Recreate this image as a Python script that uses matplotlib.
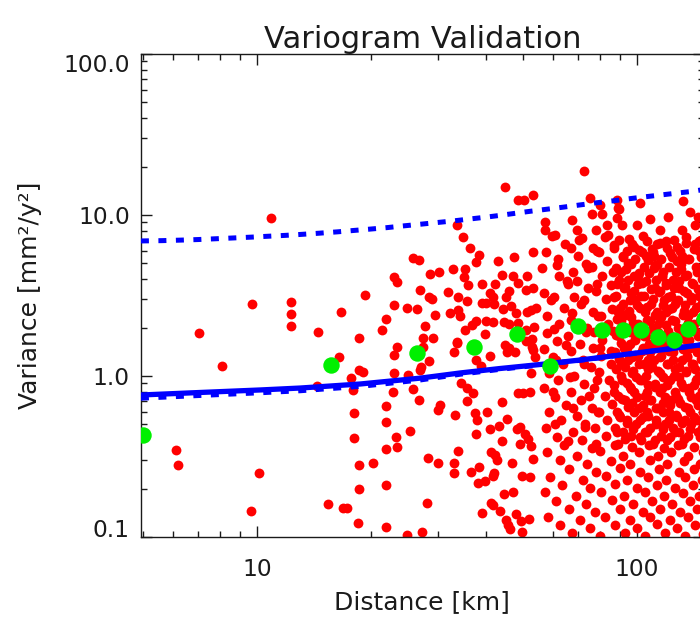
import matplotlib
matplotlib.use("Agg")
import matplotlib.pyplot as plt
from matplotlib.ticker import FixedLocator, LogLocator, NullFormatter

plt.rcParams['font.family'] = ['DejaVu Sans']

title = "Variogram Validation"
x_label = "Distance [km]"
y_label = "Variance [mm²/y²]"
x_ticks = [10, 100]
x_tick_labels = ["10", "100"]
y_ticks = [0.1, 1, 10, 100]
y_tick_labels = ["0.1", "1.0", "10.0", "100.0"]

# binned experimental variogram (green)
bin_distance = [5.0, 15.66, 26.4, 37.3, 48.2, 59.0, 70.1, 81.0, 91.6, 102.6, 113.8, 124.9, 136.0, 150.0]
bin_variance = [0.43, 1.17, 1.395, 1.51, 1.815, 1.154, 2.035, 1.93, 1.917, 1.92, 1.735, 1.673, 1.96, 2.26]

# model curve (solid) and its dashed companion
model_distance = [4.95, 7.08, 10.2, 13.0, 18.7, 26.9, 34.2, 43.6, 55.6, 70.8, 90.2, 115, 150]
model_variance = [0.762, 0.79, 0.819, 0.842, 0.892, 0.97, 1.044, 1.113, 1.179, 1.257, 1.35, 1.45, 1.57]
model2_variance = [0.728, 0.757, 0.787, 0.81, 0.862, 0.945, 1.025, 1.10, 1.172, 1.252, 1.347, 1.448, 1.568]

# upper dashed curve
upper_distance = [4.95, 5.62, 6.27, 7.0, 7.8, 8.65, 9.7, 10.7, 11.85, 13.1, 14.6, 16.3, 17.9, 19.8,
                  22.0, 24.2, 27.0, 29.8, 33.0, 36.1, 39.8, 44.1, 48.3, 52.9, 58.6, 64.2, 70.8,
                  78.0, 86.6, 94.9, 104.3, 115, 126.5, 139, 150]
upper_variance = [6.90, 6.93, 6.98, 7.04, 7.12, 7.20, 7.29, 7.38, 7.47, 7.58, 7.71, 7.86, 8.01, 8.17,
                  8.35, 8.55, 8.77, 8.98, 9.2, 9.43, 9.68, 9.98, 10.28, 10.58, 10.9, 11.2, 11.55,
                  11.9, 12.25, 12.6, 12.95, 13.3, 13.65, 14.0, 14.4]

# individual pair variances (red), short distances
near_pairs = [
    (10.9, 9.6), (9.7, 2.81), (12.3, 2.87), (12.3, 2.43), (12.3, 2.05), (7.03, 1.86), (14.5, 1.88),
    (16.6, 2.49), (18.5, 1.73), (16.4, 1.32), (8.07, 1.15), (6.11, 0.346), (6.21, 0.281), (10.1, 0.249),
    (9.64, 0.146), (14.4, 0.87), (17.7, 0.97), (17.9, 0.82), (18.0, 0.59), (18.0, 0.41), (18.5, 0.28),
    (18.5, 0.20), (18.4, 0.123), (15.4, 0.160), (16.8, 0.152), (17.3, 0.152), (18.6, 1.09),
    (45, 14.9), (48.7, 12.4), (50.5, 12.4), (53.2, 13.4), (33.6, 8.67), (34.9, 7.27), (36.3, 6.21),
    (38.5, 5.67), (37.6, 5.13), (25.7, 5.38), (26.7, 5.25), (30.1, 4.43), (28.6, 4.32), (32.8, 4.64),
    (35.3, 4.6), (35.0, 4.14), (23.0, 4.1), (23.4, 3.85), (19.2, 3.2), (26.8, 3.44), (28.4, 3.11),
    (28.9, 3.01), (22.9, 2.76), (24.8, 2.65), (26.3, 2.6), (21.9, 2.25), (21.3, 1.94), (29.4, 2.39),
    (31.8, 3.32), (33.9, 3.11), (35.7, 2.92), (32.2, 2.45), (33.9, 2.57), (34.3, 2.37), (35.9, 3.67),
    (27.7, 2.05), (27.3, 1.71), (29.0, 1.71), (33.7, 1.63), (23.3, 1.52), (35.3, 1.93), (37.6, 2.2),
    (36.9, 2.07), (39.1, 3.71), (42.3, 3.71), (41.0, 3.26), (41.8, 3.11), (43.0, 5.2), (44.0, 4.22),
    (47.1, 4.16), (47.4, 5.51), (53.3, 5.89), (51.5, 4.19), (48.7, 3.77), (46.0, 3.37), (45.2, 3.11),
    (50.9, 3.42), (53.2, 3.5), (46.5, 2.73), (44.3, 2.62), (40.1, 2.83), (39.1, 2.86), (42.0, 2.79),
    (48.0, 2.47), (51.5, 2.5), (52.5, 2.57), (54.2, 2.63), (40.0, 2.2), (41.8, 2.17), (44.6, 2.17),
    (46.0, 2.1), (48.7, 2.13), (53.5, 2.02), (51.0, 1.93), (39.8, 1.82), (53.0, 1.7), (51.0, 1.66),
    (45.0, 1.56), (46.0, 1.49), (53.0, 1.52),
    (22.9, 1.35), (19.0, 1.06), (23.0, 1.04), (25.0, 1.01), (27.0, 1.14), (26.9, 1.09), (28.4, 1.24),
    (27.4, 1.52), (33.0, 1.40), (33.7, 1.61), (41.1, 1.33), (37.6, 1.26), (38.9, 1.15), (45.4, 1.41),
    (47.7, 1.40), (53.2, 1.45), (53.8, 1.32), (52.7, 1.05), (34.4, 0.90), (35.6, 0.84), (22.8, 0.80),
    (25.7, 0.83), (26.7, 0.71), (37.1, 0.78), (35.7, 0.70), (48.7, 0.78), (50.2, 0.78), (52.3, 0.80),
    (44.1, 0.69), (21.8, 0.65), (30.3, 0.66), (30.0, 0.615), (37.4, 0.585), (37.9, 0.533), (40.3, 0.60),
    (33.2, 0.573), (45.6, 0.54), (21.9, 0.52), (25.3, 0.457), (37.7, 0.434), (41.1, 0.466), (43.4, 0.49),
    (48.4, 0.47), (49.2, 0.48), (50.8, 0.434), (51.7, 0.404), (23.2, 0.416), (44.2, 0.395), (49.3, 0.376),
    (52.6, 0.367), (21.8, 0.352), (23.3, 0.36), (33.9, 0.342), (41.4, 0.338), (42.3, 0.323), (42.7, 0.30),
    (53.2, 0.305), (46.9, 0.29), (28.2, 0.308), (29.9, 0.289), (33.0, 0.289), (33.0, 0.249), (20.2, 0.289),
    (36.5, 0.255), (38.4, 0.273), (42.1, 0.251), (41.7, 0.24), (49.8, 0.24), (52.3, 0.237), (39.9, 0.224),
    (38.2, 0.216), (21.9, 0.209), (44.6, 0.185), (47.2, 0.189), (28.0, 0.162), (41.3, 0.162), (41.8, 0.157),
    (39.2, 0.141), (43.6, 0.145), (47.9, 0.138), (52.1, 0.129), (45.3, 0.128), (45.8, 0.119), (49.6, 0.125),
    (21.9, 0.115), (27.1, 0.108), (24.8, 0.103), (46.3, 0.112), (49.8, 0.107),
]

# individual pair variances (red), long distances
far_pairs = [
    (72.6, 18.8), (75.2, 12.8), (88.7, 12.4), (102, 11.9), (132, 12.2), (80, 11.6), (89, 11.1),
    (76.2, 10.2), (80.9, 10.2), (89.5, 10.9), (121, 9.7), (145, 9.7), (57.3, 9.1), (67.3, 9.3),
    (88.5, 9.6), (57.3, 8.07), (60.8, 7.5), (69.6, 8.07), (71.5, 7.2), (78, 8.1), (83.2, 8.7),
    (83.7, 7.5), (91.2, 8.7), (100, 8.7), (115, 8.1), (131, 8.1), (142, 8.7), (108, 9.4), (138, 10.5),
    (150, 9.0),
    (59.8, 7.4), (70.2, 6.95), (82.5, 7.3), (95.5, 7.05), (103.8, 7.45), (119.0, 6.85), (134.6, 7.3), (147.1, 7.0),
    (64.5, 6.6), (76.8, 6.25), (86.9, 6.55), (98.3, 6.3), (109.4, 6.15), (114.8, 6.7), (127.1, 6.35), (141.9, 6.6),
    (57.6, 5.85), (69.9, 5.55), (78.4, 6.0), (92.1, 5.6), (103.0, 5.9), (110.6, 5.55), (121.8, 5.8), (131.0, 5.6), (145.9, 5.95),
    (61.8, 5.3), (73.5, 4.95), (83.6, 5.2), (94.9, 5.0), (106.9, 5.25), (113.1, 4.9), (127.6, 5.15), (136.4, 5.3), (150.2, 4.95),
    (56.4, 4.7), (67.8, 4.4), (76.1, 4.75), (86.5, 4.45), (93.3, 4.6), (101.5, 4.35), (111.0, 4.7), (117.2, 4.45), (130.9, 4.6), (143.4, 4.4),
    (62.2, 4.15), (69.4, 3.9), (80.7, 4.2), (89.6, 3.95), (97.9, 4.2), (105.5, 3.9), (116.2, 4.15), (124.7, 3.95), (133.9, 4.2), (147.9, 3.98),
    (65.9, 3.75), (74.4, 3.5), (85.2, 3.7), (92.8, 3.55), (100.4, 3.75), (111.7, 3.5), (118.9, 3.7), (128.7, 3.52), (140.7, 3.72), (151.3, 3.58),
    (57.0, 3.3), (68.3, 3.1), (77.9, 3.35), (88.3, 3.15), (96.7, 3.28), (104.2, 3.12), (114.4, 3.32), (122.6, 3.15), (135.1, 3.3), (145.3, 3.12),
    (59.3, 2.95), (71.4, 2.8), (82.9, 3.0), (91.7, 2.82), (98.7, 2.98), (109.0, 2.8), (117.6, 2.95), (125.5, 2.8), (138.6, 2.96), (148.4, 2.83),
    (64.1, 2.65), (76.5, 2.5), (86.1, 2.6), (95.1, 2.52), (101.9, 2.65), (112.8, 2.5), (121.2, 2.62), (132.6, 2.52), (143.1, 2.66),
    (58.0, 2.35), (67.2, 2.22), (80.4, 2.36), (88.8, 2.25), (96.5, 2.34), (106.3, 2.22), (115.3, 2.33), (123.9, 2.24), (136.0, 2.35), (147.2, 2.25),
    (62.5, 2.1), (73.9, 1.98), (84.1, 2.1), (93.7, 2.0), (100.9, 2.1), (110.3, 1.98), (119.4, 2.08), (128.5, 2.0), (141.0, 2.1), (151.8, 2.0),
    (57.9, 1.86), (66.0, 1.78), (77.0, 1.88), (87.8, 1.79), (95.7, 1.87), (104.6, 1.78), (113.8, 1.87), (122.4, 1.78), (133.2, 1.86), (144.3, 1.79),
    (61.5, 1.66), (71.0, 1.58), (81.0, 1.68), (90.5, 1.6), (99.0, 1.67), (107.7, 1.59), (118.2, 1.66), (126.3, 1.59), (137.1, 1.67), (149.6, 1.6),
    (56.9, 1.48), (67.0, 1.42), (76.4, 1.5), (85.4, 1.42), (94.3, 1.49), (103.3, 1.42), (111.6, 1.49), (121.5, 1.42), (132.3, 1.48), (143.6, 1.42),
    (60.2, 1.32), (72.2, 1.26), (80.2, 1.33), (89.9, 1.27), (97.3, 1.32), (106.6, 1.26), (115.2, 1.32), (124.0, 1.26), (135.7, 1.32), (147.0, 1.27),
    (63.7, 1.18), (75.7, 1.13), (85.6, 1.19), (92.7, 1.13), (101.2, 1.18), (109.8, 1.13), (120.4, 1.18), (129.2, 1.13), (140.2, 1.18), (151.0, 1.14),
    (58.7, 1.05), (68.4, 1.0), (79.5, 1.06), (90.9, 1.0), (97.1, 1.05), (105.9, 1.0), (114.6, 1.05), (125.0, 1.0), (134.9, 1.06), (145.5, 1.0),
    (62.0, 0.94), (72.7, 0.895), (84.4, 0.945), (93.9, 0.9), (101.6, 0.94), (111.3, 0.895), (120.9, 0.935), (130.3, 0.9), (142.6, 0.94),
    (56.8, 0.84), (67.1, 0.8), (77.2, 0.845), (87.0, 0.8), (96.2, 0.835), (106.1, 0.8), (116.1, 0.84), (125.8, 0.8), (136.7, 0.84), (148.6, 0.805),
    (61.0, 0.745), (71.2, 0.71), (82.2, 0.75), (91.1, 0.715), (100.0, 0.745), (108.5, 0.71), (118.6, 0.745), (127.9, 0.715), (139.0, 0.745),
    (64.9, 0.665), (75.9, 0.635), (85.7, 0.67), (94.5, 0.64), (103.9, 0.665), (112.5, 0.635), (122.3, 0.665), (133.5, 0.64), (145.0, 0.665),
    (58.6, 0.595), (69.6, 0.565), (78.8, 0.6), (89.4, 0.57), (98.0, 0.595), (107.2, 0.565), (117.3, 0.595), (127.0, 0.57), (137.6, 0.595), (149.9, 0.57),
    (63.0, 0.53), (72.8, 0.505), (83.5, 0.53), (94.0, 0.51), (102.1, 0.53), (111.9, 0.505), (121.1, 0.53), (131.7, 0.51), (143.8, 0.53),
    (57.5, 0.475), (67.9, 0.45), (77.7, 0.475), (88.7, 0.45), (97.4, 0.47), (106.4, 0.45), (116.7, 0.47), (126.2, 0.45), (138.2, 0.47),
    (61.4, 0.42), (71.6, 0.4), (82.7, 0.425), (92.9, 0.405), (101.7, 0.42), (111.4, 0.4), (121.9, 0.42), (133.3, 0.405), (146.2, 0.42),
    (64.3, 0.375), (76.3, 0.355), (87.3, 0.375), (96.9, 0.36), (107.4, 0.375), (117.7, 0.355), (128.0, 0.375), (141.6, 0.36),
    (58.1, 0.335), (69.7, 0.32), (80.1, 0.34), (91.6, 0.32), (101.0, 0.335), (113.4, 0.32), (123.2, 0.335), (135.9, 0.32), (148.9, 0.335),
    (62.9, 0.3), (74.0, 0.285), (85.5, 0.298), (96.0, 0.286), (108.1, 0.3), (120.1, 0.286), (133.0, 0.298), (146.7, 0.286),
    (66.4, 0.265), (78.2, 0.252), (90.4, 0.267), (102.0, 0.254), (114.0, 0.266), (128.6, 0.253), (141.4, 0.266),
    (59.2, 0.236), (71.9, 0.226), (83.1, 0.238), (94.2, 0.227), (106.7, 0.237), (119.1, 0.226), (133.8, 0.236), (148.1, 0.227),
    (63.3, 0.211), (75.4, 0.201), (87.6, 0.212), (99.8, 0.202), (113.0, 0.211), (125.6, 0.202), (140.0, 0.21),
    (57.1, 0.189), (68.9, 0.18), (80.3, 0.19), (92.6, 0.181), (105.2, 0.189), (118.0, 0.18), (132.0, 0.188), (146.0, 0.181),
    (61.3, 0.168), (73.2, 0.16), (85.8, 0.169), (97.8, 0.161), (109.7, 0.168), (123.5, 0.16), (137.7, 0.168),
    (66.1, 0.15), (77.4, 0.143), (90.1, 0.15), (103.4, 0.144), (115.0, 0.15), (129.6, 0.143), (144.1, 0.15),
    (58.4, 0.134), (70.6, 0.127), (82.6, 0.134), (95.8, 0.128), (108.3, 0.134), (122.2, 0.127), (136.3, 0.134),
    (62.6, 0.119), (75.0, 0.114), (87.7, 0.119), (100.1, 0.114), (112.7, 0.12), (127.5, 0.114), (142.3, 0.119),
    (67.6, 0.106), (80.0, 0.101), (93.1, 0.106), (104.9, 0.102), (118.7, 0.106), (133.6, 0.101), (149.4, 0.105),
]

# more long-distance pairs filling the densest part of the cloud
dense_pairs = [
    (89.5, 6.95), (97.2, 6.65), (106.5, 6.9), (113.0, 6.6), (125.3, 7.0), (134.8, 6.7), (146.0, 6.9),
    (86.8, 6.2), (93.9, 5.95), (101.1, 6.1), (110.4, 5.9), (119.6, 6.25), (129.5, 5.95), (141.2, 6.15), (151, 5.9),
    (91.8, 5.5), (98.6, 5.3), (105.3, 5.55), (115.7, 5.3), (123.4, 5.5), (136.9, 5.35), (147.5, 5.5),
    (87.9, 4.7), (96.4, 4.95), (104.1, 4.75), (111.2, 4.9), (121.6, 4.72), (130.8, 4.95), (142.7, 4.75),
    (90.6, 4.4), (100.9, 4.2), (107.3, 4.35), (116.5, 4.2), (126.9, 4.4), (135.2, 4.22), (148.3, 4.38),
    (88.4, 3.75), (94.8, 3.92), (103.0, 3.78), (112.3, 3.93), (119.0, 3.76), (129.0, 3.9), (139.8, 3.76), (150.4, 3.92),
    (92.5, 3.5), (98.0, 3.36), (108.7, 3.48), (115.1, 3.35), (124.9, 3.5), (133.1, 3.36), (144.9, 3.48),
    (87.2, 3.1), (95.6, 2.98), (102.3, 3.12), (110.0, 2.99), (120.7, 3.1), (128.4, 2.98), (138.5, 3.11), (149.0, 2.99),
    (90.0, 2.66), (99.9, 2.78), (106.0, 2.67), (117.4, 2.78), (123.8, 2.66), (134.0, 2.77), (143.6, 2.67),
    (88.9, 2.48), (93.2, 2.38), (104.8, 2.48), (111.8, 2.38), (119.3, 2.48), (131.9, 2.38), (140.5, 2.48), (151.5, 2.39),
    (91.0, 2.21), (97.7, 2.12), (107.9, 2.21), (114.2, 2.12), (126.1, 2.21), (136.4, 2.12), (146.8, 2.2),
    (86.5, 1.89), (95.0, 1.97), (101.5, 1.89), (109.6, 1.97), (121.0, 1.89), (129.9, 1.97), (141.9, 1.89),
    (89.8, 1.76), (98.9, 1.69), (105.6, 1.76), (116.0, 1.69), (122.5, 1.76), (133.6, 1.69), (145.1, 1.76),
    (92.2, 1.5), (96.1, 1.57), (103.4, 1.5), (112.6, 1.57), (118.4, 1.5), (127.7, 1.57), (138.1, 1.5), (150.0, 1.57),
    (87.6, 1.4), (100.3, 1.34), (108.4, 1.4), (115.5, 1.34), (124.6, 1.4), (135.5, 1.34), (144.0, 1.4),
    (90.9, 1.19), (94.4, 1.25), (104.5, 1.19), (110.7, 1.25), (120.2, 1.19), (131.2, 1.25), (139.3, 1.19), (148.8, 1.25),
    (88.1, 1.11), (97.5, 1.07), (106.8, 1.11), (113.6, 1.07), (125.7, 1.11), (134.3, 1.07), (142.4, 1.11),
    (91.5, 0.95), (99.1, 0.99), (102.9, 0.95), (117.0, 0.99), (122.0, 0.95), (128.8, 0.99), (146.3, 0.95),
    (86.9, 0.885), (95.9, 0.85), (107.0, 0.885), (111.5, 0.85), (119.8, 0.885), (132.5, 0.85), (140.9, 0.885), (151.2, 0.85),
    (89.3, 0.755), (98.3, 0.79), (104.9, 0.755), (114.8, 0.79), (126.4, 0.755), (137.3, 0.79), (145.7, 0.755),
    (92.8, 0.705), (96.8, 0.675), (109.1, 0.705), (116.8, 0.675), (123.1, 0.705), (130.1, 0.675), (143.2, 0.705),
    (88.6, 0.6), (101.3, 0.63), (106.2, 0.6), (113.3, 0.63), (121.3, 0.6), (135.8, 0.63), (149.5, 0.6),
    (90.3, 0.56), (94.1, 0.536), (103.8, 0.56), (112.0, 0.536), (127.3, 0.56), (133.4, 0.536), (141.5, 0.56),
    (87.4, 0.478), (99.6, 0.5), (108.0, 0.478), (118.8, 0.5), (124.2, 0.478), (138.9, 0.5), (147.8, 0.478),
    (91.9, 0.446), (96.6, 0.426), (105.0, 0.446), (115.9, 0.426), (129.3, 0.446), (136.6, 0.426), (144.4, 0.446),
    (89.1, 0.38), (102.6, 0.398), (110.2, 0.38), (120.0, 0.398), (131.6, 0.38), (150.6, 0.398),
    (67.0, 6.2), (79.6, 5.85), (61.5, 4.9), (74.1, 4.7), (65.6, 3.9), (78.3, 3.75), (60.3, 3.1), (72.5, 2.97),
    (67.4, 2.47), (78.9, 2.36), (60.6, 1.97), (73.6, 1.88), (65.2, 1.56), (79.8, 1.5), (61.1, 1.25), (72.6, 1.19),
    (66.8, 0.99), (78.6, 0.95), (60.0, 0.79), (74.6, 0.755), (67.7, 0.63), (79.2, 0.6), (60.7, 0.5), (72.9, 0.48),
    (65.8, 0.395), (78.0, 0.38),
]

pair_distance = [p[0] for p in near_pairs + far_pairs + dense_pairs]
pair_variance = [p[1] for p in near_pairs + far_pairs + dense_pairs]

W, H = 700, 617
fig = plt.figure(figsize=(W / 100, H / 100), dpi=100)
ax_left, ax_right, ax_top, ax_bottom = 141, 703.5, 54, 537
ax = fig.add_axes([ax_left / W, (H - ax_bottom) / H, (ax_right - ax_left) / W, (ax_bottom - ax_top) / H])
ax.set_xscale('log')
ax.set_yscale('log')
ax.set_xlim(4.953, 149.6)
ax.set_ylim(0.1, 100)

ax.scatter(pair_distance, pair_variance, s=50, c='#ff0000', linewidths=0, zorder=2)
ax.plot(upper_distance, upper_variance, color='#0000ff', lw=3.6, dashes=(1.6, 1.9),
        dash_capstyle='butt', zorder=3)
ax.plot(model_distance, model2_variance, color='#0000ff', lw=3.6, dashes=(1.6, 1.9),
        dash_capstyle='butt', zorder=3)
ax.plot(model_distance, model_variance, color='#0000ff', lw=3.8, zorder=4)
ax.scatter(bin_distance, bin_variance, s=140, c='#00f000', linewidths=0, zorder=5)

ax.xaxis.set_major_locator(FixedLocator(x_ticks))
ax.set_xticklabels(x_tick_labels)
ax.xaxis.set_minor_locator(LogLocator(base=10, subs=range(2, 10)))
ax.xaxis.set_minor_formatter(NullFormatter())
ax.yaxis.set_major_locator(FixedLocator(y_ticks))
ax.set_yticklabels(y_tick_labels)
ax.yaxis.set_minor_locator(LogLocator(base=10, subs=range(2, 10)))
ax.yaxis.set_minor_formatter(NullFormatter())

text_color = '#1a1a1a'
ax.tick_params(which='both', direction='in', top=True, right=True, color=text_color, width=1.0)
ax.tick_params(which='major', length=8)
ax.tick_params(which='minor', length=4.3)
ax.tick_params(axis='x', which='major', labelsize=16.8, pad=15, labelcolor=text_color)
ax.tick_params(axis='y', which='major', labelsize=16.8, pad=8, labelcolor=text_color)
for sp in ax.spines.values():
    sp.set_linewidth(1.0)
    sp.set_color(text_color)

ax.set_title(title, fontsize=22, pad=3, color=text_color)
ax.set_xlabel(x_label, fontsize=18, color=text_color, va='baseline')
ax.xaxis.set_label_coords(0.5, (ax_bottom - 609) / (ax_bottom - ax_top))
ax.set_ylabel(y_label, fontsize=18, color=text_color, va='center')
ax.yaxis.set_label_coords((30 - ax_left) / (ax_right - ax_left), 0.5)

ylabels = ax.get_yticklabels()
ylabels[0].set_verticalalignment('baseline')
ylabels[-1].set_verticalalignment('top')

fig.savefig('out.png', dpi=100)
